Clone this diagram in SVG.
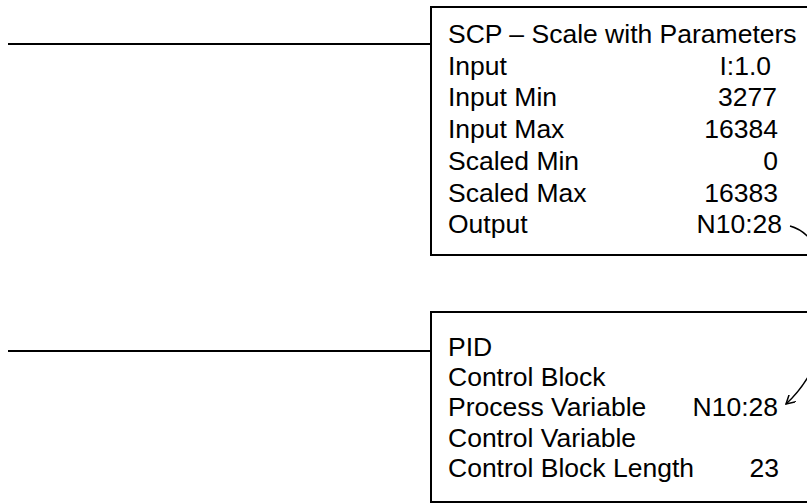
<svg xmlns="http://www.w3.org/2000/svg" width="807" height="504" viewBox="0 0 807 504">
<style>
text{font-family:"Liberation Sans",Arial,sans-serif;font-size:26.5px;fill:#000}
.v{text-anchor:end}
.box{fill:#fff;stroke:#000;stroke-width:2}
.rung{stroke:#000;stroke-width:2;fill:none}
.conn{stroke:#000;stroke-width:1.5;fill:none}
</style>
<defs>
<marker id="ah" viewBox="0 0 10 10" refX="9" refY="5" markerWidth="10" markerHeight="10" markerUnits="userSpaceOnUse" orient="auto">
<path d="M0,0 L9,5 L0,10" fill="none" stroke="#000" stroke-width="1.5"/>
</marker>
</defs>
<g id="rung1"><line class="rung" x1="8" y1="44" x2="431" y2="44"/></g>
<g id="rung2"><line class="rung" x1="8" y1="351" x2="431" y2="351"/></g>
<g id="scp">
<rect class="box" x="431" y="7" width="420" height="248"/>
<text x="448" y="43">SCP – Scale with Parameters</text>
<text x="448" y="74.5">Input</text><text class="v" x="771" y="74.5">I:1.0</text>
<text x="448" y="106">Input Min</text><text class="v" x="777" y="106">3277</text>
<text x="448" y="138">Input Max</text><text class="v" x="778" y="138">16384</text>
<text x="448" y="170">Scaled Min</text><text class="v" x="778" y="170">0</text>
<text x="448" y="201.5">Scaled Max</text><text class="v" x="778" y="201.5">16383</text>
<text x="448" y="233">Output</text><text class="v" x="782" y="233">N10:28</text>
</g>
<g id="pid">
<rect class="box" x="431" y="312" width="420" height="190"/>
<text x="448" y="356">PID</text>
<text x="448" y="386">Control Block</text>
<text x="448" y="416">Process Variable</text><text class="v" x="778" y="416">N10:28</text>
<text x="448" y="447">Control Variable</text>
<text x="448" y="477">Control Block Length</text><text class="v" x="779" y="477">23</text>
</g>
<g id="connectors">
<path class="conn" d="M790,226 C840,240 845,350 786,404" marker-end="url(#ah)"/>
</g>
</svg>
